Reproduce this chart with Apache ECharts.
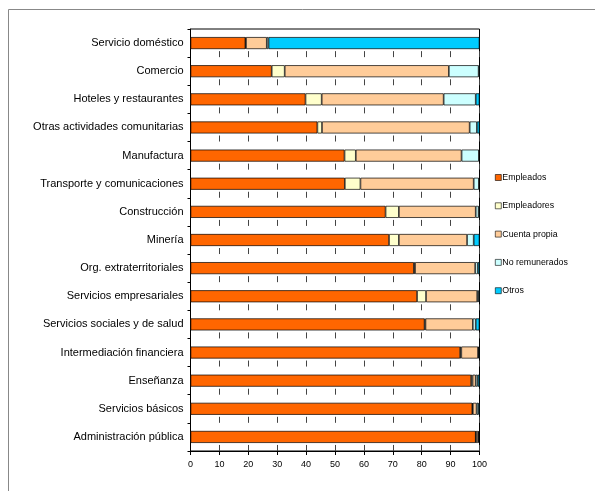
<!DOCTYPE html>
<html>
<head>
<meta charset="utf-8">
<script src="https://cdn.jsdelivr.net/npm/echarts@6/dist/echarts.min.js"></script>
<style>html,body{margin:0;padding:0;background:#fff;}#c{width:595px;height:491px;}</style>
</head>
<body>
<div id="c"></div>
<script>
const categories = ['Servicio doméstico','Comercio','Hoteles y restaurantes','Otras actividades comunitarias','Manufactura','Transporte y comunicaciones','Construcción','Minería','Org. extraterritoriales','Servicios empresariales','Servicios sociales y de salud','Intermediación financiera','Enseñanza','Servicios básicos','Administración pública'];
const empleados     = [19.0, 28.1, 39.8, 43.9, 53.3, 53.4, 67.5, 68.7, 77.3, 78.4, 81.0, 93.3, 97.1, 97.5, 98.7];
const empleadores   = [0.2, 4.5, 5.6, 1.6, 3.9, 5.4, 4.6, 3.4, 0.4, 3.1, 0.3, 0.4, 0.5, 0.2, 0.1];
const cuentaPropia  = [7.2, 56.8, 42.2, 51.1, 36.6, 39.2, 26.6, 23.6, 20.8, 17.7, 16.4, 5.8, 1.1, 1.3, 0.7];
const noRemunerados = [0.6, 10.3, 11.1, 2.5, 6.0, 1.8, 1.0, 2.3, 0.9, 0.5, 1.0, 0.2, 0.7, 0.6, 0.3];
const otros         = [73.0, 0.3, 1.3, 0.9, 0.2, 0.2, 0.3, 2.0, 0.6, 0.3, 1.3, 0.3, 0.6, 0.4, 0.2];
const seriesNames = ['Empleados','Empleadores','Cuenta propia','No remunerados','Otros'];
const colors = ['#FF6600','#FFFFCC','#FFCC99','#CCFFFF','#00CCFF'];
const values = [empleados, empleadores, cuentaPropia, noRemunerados, otros];

const font = 'Liberation Sans, Arial, sans-serif';
const chart = echarts.init(document.getElementById('c'), null, {renderer:'canvas'});
chart.setOption({
  animation: false,
  backgroundColor: '#fff',
  graphic: [{
    type: 'rect', z: -10, silent: true,
    shape: {x: 8.5, y: 9.5, width: 800, height: 800},
    style: {fill: 'none', stroke: '#888', lineWidth: 1}
  }],
  grid: {left: 190.5, right: 115.5, top: 29, bottom: 40, show: true, borderColor: '#000', borderWidth: 1, backgroundColor: 'transparent'},
  legend: {
    orient: 'vertical', left: 490, top: 168,
    itemWidth: 6, itemHeight: 6, itemGap: 19.3,
    icon: 'rect',
    data: seriesNames,
    itemStyle: {borderColor: '#000', borderWidth: 0.6},
    textStyle: {fontFamily: font, fontSize: 8.8, color: '#000', padding: [0,0,0,-4]}
  },
  xAxis: {
    type: 'value', min: 0, max: 100, interval: 10,
    axisLine: {show: true, lineStyle: {color: '#000', width: 1}},
    axisTick: {show: true, inside: false, length: 4, lineStyle: {color: '#000'}},
    axisLabel: {fontFamily: font, fontSize: 9, color: '#000', margin: 9},
    splitLine: {show: true, lineStyle: {color: '#444', width: 1, type: [6, 22.13], dashOffset: 6}}
  },
  yAxis: {
    type: 'category', inverse: true, data: categories,
    axisLine: {show: true, lineStyle: {color: '#000', width: 1}},
    axisTick: {show: true, length: 3, lineStyle: {color: '#000'}},
    axisLabel: {fontFamily: font, fontSize: 11, color: '#000', margin: 7}
  },
  series: seriesNames.map((n, i) => ({
    name: n, type: 'bar', stack: 'total', barWidth: 12,
    data: values[i],
    itemStyle: {color: colors[i], borderColor: '#000', borderWidth: 0.7}
  }))
});
</script>
</body>
</html>
